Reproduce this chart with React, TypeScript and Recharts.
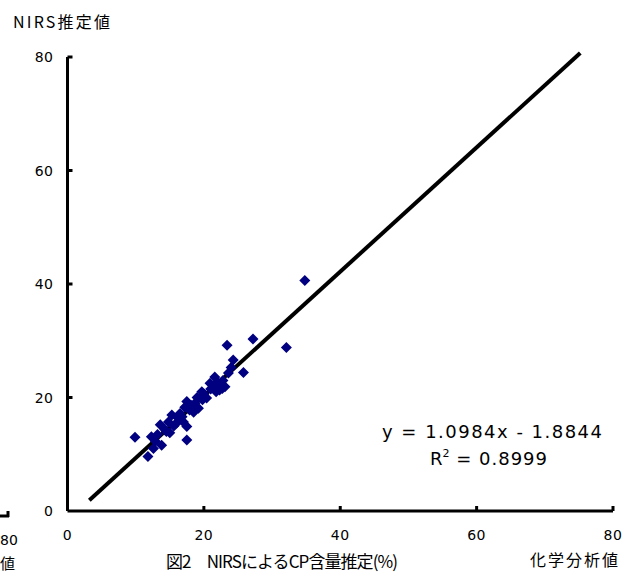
import React from "react";
import { ScatterChart, Scatter, XAxis, YAxis, ReferenceLine } from "recharts";

const xTicks = [0, 20, 40, 60, 80];
const yTicks = [0, 20, 40, 60, 80];

const chemX = [
  34.8, 27.2, 23.4, 32.1, 24.3, 25.8, 23.6, 21.6, 22.7, 20.9,
  19.7, 20.4, 17.5, 18.7, 19.2, 17.9, 16.5, 15.3, 17.0, 17.5,
  16.0, 14.8, 13.6, 14.3, 17.5, 12.3, 13.8, 12.6, 11.8, 9.9,
  22.1, 22.3, 23.1, 21.0, 19.0, 18.2, 16.8, 15.6, 14.5, 13.2,
  20.0, 21.4, 22.8, 16.2, 18.5, 15.0, 12.9, 17.2, 19.8, 21.8, 24.0,
];
const nirsY = [
  40.6, 30.3, 29.2, 28.8, 26.6, 24.4, 24.3, 23.6, 21.6, 22.5,
  21.0, 19.9, 19.3, 19.0, 18.1, 17.8, 17.2, 16.9, 15.7, 14.9,
  15.5, 15.7, 15.2, 14.3, 12.5, 13.1, 11.6, 11.0, 9.6, 13.0,
  22.6, 21.3, 21.9, 21.5, 20.0, 18.6, 16.6, 15.0, 14.0, 13.5,
  20.6, 22.0, 23.0, 16.4, 17.4, 13.8, 12.3, 18.3, 19.6, 21.0, 25.3,
];
const trendX = [3.2, 75.2];
const trendY = [1.9, 80.7];

const points = chemX.map((x, i) => ({ x, y: nirsY[i] }));

const FONT = "'DejaVu Sans', Verdana, sans-serif";
const JP = "'Noto Sans CJK JP', sans-serif";

const Diamond = (props: any) => {
  const { cx, cy } = props;
  const r = 5.5;
  return (
    <polygon
      points={`${cx},${cy - r} ${cx + r},${cy} ${cx},${cy + r} ${cx - r},${cy}`}
      fill="#000080"
    />
  );
};

const XTick = (props: any) => {
  const { x, y, payload } = props;
  return (
    <g>
      {payload.value !== 0 ? (
        <line x1={x} y1={y} x2={x} y2={y - 5} stroke="#000" strokeWidth={3} />
      ) : null}
      <text x={x} y={y + 29} textAnchor="middle" fontSize={14} fontFamily={FONT} fill="#000" letterSpacing={0.5}>
        {payload.value}
      </text>
    </g>
  );
};

const YTick = (props: any) => {
  const { x, y, payload } = props;
  return (
    <g>
      {payload.value !== 0 ? (
        <line x1={x} y1={y} x2={x + 5} y2={y} stroke="#000" strokeWidth={3} />
      ) : null}
      <text x={x - 14} y={y + 5} textAnchor="end" fontSize={14} fontFamily={FONT} fill="#000" letterSpacing={0.5}>
        {payload.value}
      </text>
    </g>
  );
};

export default function App() {
  return (
    <div style={{ position: "absolute", left: 0, top: 0, width: 627, height: 577, background: "#fff" }}>
      <ScatterChart width={627} height={577} margin={{ top: 57, right: 14, bottom: 36, left: 0 }}>
        <XAxis
          type="number"
          dataKey="x"
          domain={[0, 80]}
          ticks={xTicks}
          height={30}
          axisLine={{ stroke: "#000", strokeWidth: 3 }}
          tickLine={false}
          tickSize={0}
          tickMargin={0}
          tick={<XTick />}
          interval={0}
        />
        <YAxis
          type="number"
          dataKey="y"
          domain={[0, 80]}
          ticks={yTicks}
          width={67.5}
          axisLine={{ stroke: "#000", strokeWidth: 3 }}
          tickLine={false}
          tickSize={0}
          tickMargin={0}
          tick={<YTick />}
          interval={0}
        />
        <Scatter data={points} shape={<Diamond />} isAnimationActive={false} />
        <ReferenceLine
          segment={[
            { x: trendX[0], y: trendY[0] },
            { x: trendX[1], y: trendY[1] },
          ]}
          stroke="#000"
          strokeWidth={4}
          ifOverflow="visible"
        />
      </ScatterChart>
      <svg width={627} height={577} style={{ position: "absolute", left: 0, top: 0, pointerEvents: "none" }}>
        <text x={13} y={28} fontSize={16} fontFamily={JP} textLength={97} lengthAdjust="spacing" fill="#000">
          NIRS推定値
        </text>
        <text x={492} y={438} textAnchor="middle" fontSize={18} fontFamily={FONT} fill="#000" textLength={220} lengthAdjust="spacing">
          y = 1.0984x - 1.8844
        </text>
        <text x={430} y={465} fontSize={18} fontFamily={FONT} fill="#000">
          R<tspan dy={-8} fontSize={11}>2</tspan>
          <tspan dy={8} letterSpacing={1}> = 0.8999</tspan>
        </text>
        <text x={166} y={568} fontSize={17} fontFamily={JP} fill="#000" textLength={232} lengthAdjust="spacing">
          {"図2\u3000NIRSによるCP含量推定(%)"}
        </text>
        <text x={530} y={566} fontSize={16} fontFamily={JP} fill="#000" textLength={88} lengthAdjust="spacing">
          化学分析値
        </text>
        <text x={0} y={545} fontSize={14} fontFamily={FONT} fill="#000">
          80
        </text>
        <text x={0} y={569} fontSize={15} fontFamily={JP} fill="#000">
          値
        </text>
        <line x1={0} y1={516} x2={9} y2={516} stroke="#000" strokeWidth={3} />
        <line x1={8} y1={511} x2={8} y2={517} stroke="#000" strokeWidth={3} />
      </svg>
    </div>
  );
}
